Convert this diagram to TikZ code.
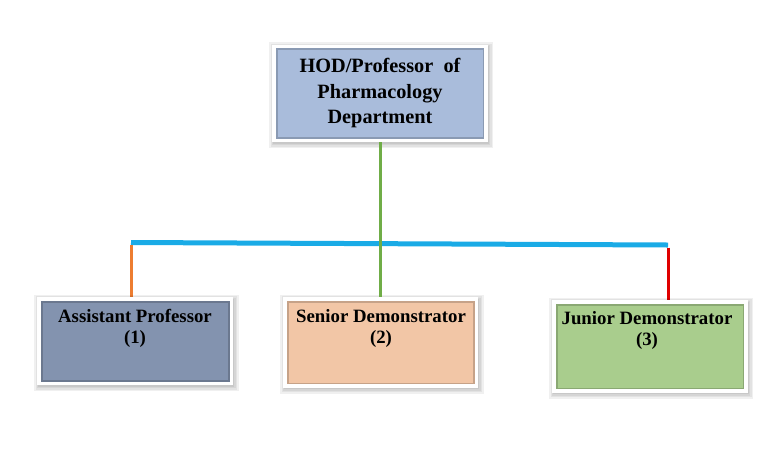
\documentclass[tikz,border=0pt]{standalone}
\usepackage{fontspec}
\setmainfont{Liberation Serif}
\definecolor{topfill}{HTML}{A9BCDB}
\definecolor{apfill}{HTML}{8393AF}
\definecolor{sdfill}{HTML}{F2C6A6}
\definecolor{jdfill}{HTML}{A9CD8D}
\definecolor{lgreen}{HTML}{70AD47}
\definecolor{lblue}{HTML}{1AABE6}
\definecolor{lorange}{HTML}{ED7D31}
\definecolor{lred}{HTML}{E00000}
\tikzset{
  shd/.style={preaction={draw=black, fill=black, opacity=#1, transform canvas={shift={(1pt,-1.5pt)}}}},
  box/.style={rectangle, draw=white, line width=3.5pt, inner sep=0pt,
    preaction={draw=black, fill=black, draw opacity=0.06, fill opacity=0.06, line width=12pt, transform canvas={shift={(1pt,-1.5pt)}}},
    preaction={draw=black, fill=black, draw opacity=0.06, fill opacity=0.06, line width=9pt, transform canvas={shift={(1pt,-1.5pt)}}},
    preaction={draw=black, fill=black, draw opacity=0.06, fill opacity=0.06, line width=6pt, transform canvas={shift={(1pt,-1.5pt)}}},
    preaction={draw=black, fill=black, draw opacity=0.06, fill opacity=0.06, line width=3.5pt, transform canvas={shift={(1pt,-1.5pt)}}},
    path picture={\draw[black, opacity=0.18, line width=7pt]
      (path picture bounding box.south west) rectangle (path picture bounding box.north east);}},
  txt/.style={font=\bfseries\fontsize{18.8}{21}\selectfont, align=center, inner sep=0pt, anchor=north},
  vline/.style={line width=3pt},
}
\begin{document}
\begin{tikzpicture}[x=1pt,y=-1pt]
\useasboundingbox (0,0) rectangle (766,451);
\coordinate (bl) at (131,242.5);
\coordinate (br) at (668,245);
% connectors
\draw[lblue, line width=5pt] (bl) -- (br);
\draw[vline, lorange] ([yshift=-2.5pt]bl) -- (131,299);
\draw[vline, lred] ([yshift=-2.5pt]br) -- (668,302);
% boxes
\node[box, fill=topfill, minimum width=212pt, minimum height=94pt,
      font=\bfseries\fontsize{20.3}{25.5}\selectfont, align=center] (hod) at (380,93.5)
  {HOD/Professor\ \ of\\Pharmacology\\Department};
\node[box, fill=apfill, minimum width=192.5pt, minimum height=84.5pt] (ap) at (135.25,341.25) {};
\node[box, fill=sdfill, minimum width=191.5pt, minimum height=87pt] (sd) at (380.75,342.5) {};
\node[box, fill=jdfill, minimum width=192pt, minimum height=89pt] (jd) at (650,346.5) {};
\draw[vline, lgreen] (hod.south) -- (hod.south |- sd.north);
% texts
\node[txt] (apt) at (135,309) {Assistant Professor\\(1)};
\node[txt] (sdt) at (381,309) {Senior Demonstrator\\(2)};
\node[txt] (jdt) at (647,311) {Junior Demonstrator\\(3)};
\end{tikzpicture}
\end{document}
